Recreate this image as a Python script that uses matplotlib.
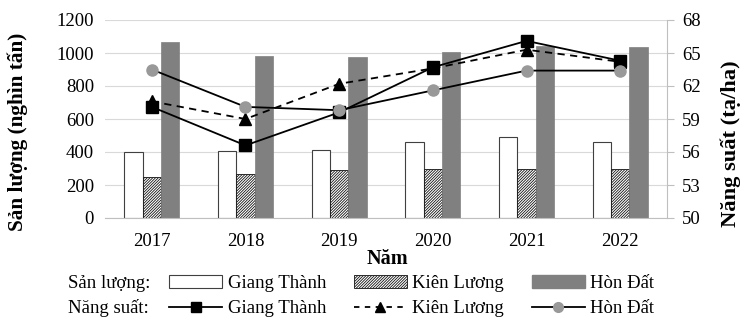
import matplotlib
matplotlib.use("Agg")
import matplotlib.pyplot as plt
import numpy as np
from matplotlib.patches import Patch
from matplotlib.lines import Line2D

plt.rcParams['font.family'] = ['Liberation Serif', 'DejaVu Serif']
plt.rcParams['hatch.linewidth'] = 0.6

years = ['2017', '2018', '2019', '2020', '2021', '2022']

# Sản lượng (nghìn tấn)
sl_giang_thanh = [400, 405, 415, 460, 490, 463]
sl_kien_luong = [246, 266, 290, 300, 300, 295]
sl_hon_dat = [1068, 984, 978, 1004, 1040, 1038]

# Năng suất (tạ/ha)
ns_giang_thanh = [60.1, 56.6, 59.6, 63.7, 66.1, 64.3]
ns_kien_luong = [60.6, 59.0, 62.2, 63.6, 65.3, 64.2]
ns_hon_dat = [63.5, 60.1, 59.8, 61.6, 63.4, 63.4]

fs = 13.5
W, H = 742, 320
fig = plt.figure(figsize=(W / 100, H / 100), dpi=100)
ax = fig.add_axes([105/W, 1 - 218/H, (667-105)/W, 198/H])
ax2 = ax.twinx()

x = np.arange(len(years))
w = 0.195
ax.bar(x - w, sl_giang_thanh, w, color='white', edgecolor='#404040', linewidth=0.8)
ax.bar(x, sl_kien_luong, w, color='white', edgecolor='#111111', hatch='////////////', linewidth=0.6)
ax.bar(x + w, sl_hon_dat, w, color='#808080', edgecolor='#808080', linewidth=0.5)

ax.set_ylim(0, 1200)
ax.set_yticks(range(0, 1201, 200))
ax.set_xlim(-0.5, len(years) - 0.5)
ax.set_xticks(x)
ax.set_xticklabels(years, fontsize=fs)
ax.tick_params(axis='y', labelsize=fs, length=0, pad=8)
ax.tick_params(axis='x', length=0, pad=11)
ax.grid(axis='y', color='#d9d9d9', linewidth=0.8)
ax.set_axisbelow(True)
for s in ['top', 'left', 'right']:
    ax.spines[s].set_visible(False)
ax.spines['bottom'].set_color('#bfbfbf')

ax2.plot(x, ns_giang_thanh, color='black', linestyle='-', linewidth=1.3,
         marker='s', markersize=8, markerfacecolor='black')
ax2.plot(x, ns_kien_luong, color='black', linestyle=(0, (4, 3)), linewidth=1.3,
         marker='^', markersize=8, markerfacecolor='black')
ax2.plot(x, ns_hon_dat, color='black', linestyle='-', linewidth=1.3,
         marker='o', markersize=8, markerfacecolor='#999999', markeredgecolor='#999999')
ax2.set_ylim(50, 68)
ax2.set_yticks(range(50, 69, 3))
ax2.tick_params(axis='y', labelsize=fs, length=5, color='#bfbfbf', pad=6)
for s in ['top', 'left', 'bottom']:
    ax2.spines[s].set_visible(False)
ax2.spines['right'].set_color('#bfbfbf')

# Axis titles
fig.text(18/W, 1 - 132/H, 'Sản lượng (nghìn tấn)', fontsize=15.3, fontweight='bold',
         rotation=90, ha='center', va='center')
fig.text(731/W, 1 - 144/H, 'Năng suất (tạ/ha)', fontsize=16.2, fontweight='bold',
         rotation=90, ha='center', va='center')
fig.text(387/W, 1 - 259/H, 'Năm', fontsize=14.5, fontweight='bold', ha='center', va='center')

handles = [
    Patch(facecolor='white', edgecolor='#404040', linewidth=0.8),
    Line2D([], [], color='black', marker='s', markersize=7, linewidth=1.3),
    Patch(facecolor='white', edgecolor='#111111', hatch='////////////', linewidth=0.6),
    Line2D([], [], color='black', marker='^', markersize=7, linewidth=1.3, linestyle=(0, (3, 3))),
    Patch(facecolor='#808080', edgecolor='#808080'),
    Line2D([], [], color='black', marker='o', markersize=7, linewidth=1.3,
           markerfacecolor='#999999', markeredgecolor='#999999'),
]
labels = ['Giang Thành', 'Giang Thành', 'Kiên Lương', 'Kiên Lương', 'Hòn Đất', 'Hòn Đất']
fig.legend(handles, labels, ncol=3, frameon=False, fontsize=fs,
           loc='center left', bbox_to_anchor=(160/W, 1 - 296/H),
           handlelength=2.8, handletextpad=0.3, columnspacing=1.5,
           labelspacing=0.42, borderpad=0)
fig.text(68/W, 1 - 284/H, 'Sản lượng:', fontsize=fs, va='center', ha='left')
fig.text(68/W, 1 - 308/H, 'Năng suất:', fontsize=fs, va='center', ha='left')

fig.savefig('out.png', dpi=100)
